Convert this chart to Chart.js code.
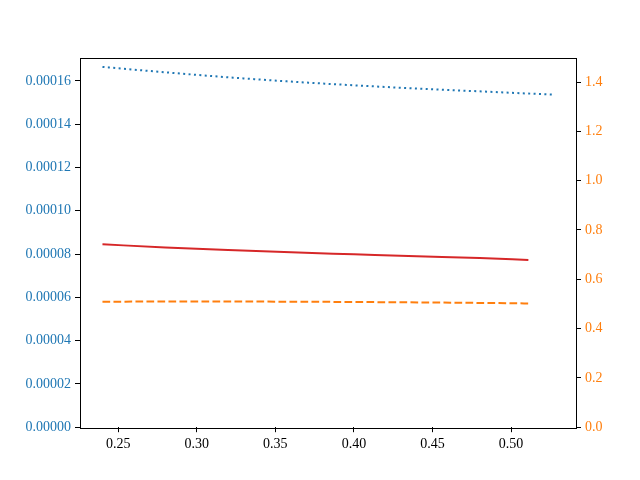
<!DOCTYPE html>
<html>
<head>
<meta charset="utf-8">
<script src="https://cdn.jsdelivr.net/npm/chart.js@4"></script>
<style>
  html, body { margin: 0; padding: 0; background: white; }
  #wrap { width: 640px; height: 480px; }
</style>
</head>
<body>
<div id="wrap"><canvas id="MyChart" width="640" height="480"></canvas></div>
<script>
// data
let xBlue = [0.240, 0.280, 0.320, 0.360, 0.400, 0.440, 0.480, 0.526]
let yBlue = [0.0001665, 0.0001640, 0.0001617, 0.0001597, 0.0001580, 0.0001565, 0.0001552, 0.0001537]
let xRed = [0.240, 0.280, 0.320, 0.360, 0.400, 0.440, 0.480, 0.511]
let yRed = [0.0000845, 0.0000831, 0.0000819, 0.0000808, 0.0000799, 0.0000790, 0.0000782, 0.0000773]
let xOrange = [0.240, 0.300, 0.360, 0.420, 0.480, 0.511]
let yOrange = [0.509, 0.510, 0.509, 0.507, 0.504, 0.502]
let xTicks = [0.25, 0.30, 0.35, 0.40, 0.45, 0.50]
let leftTicks = [0, 0.00002, 0.00004, 0.00006, 0.00008, 0.00010, 0.00012, 0.00014, 0.00016]
let rightTicks = [0, 0.2, 0.4, 0.6, 0.8, 1.0, 1.2, 1.4]

const pts = (xs, ys) => xs.map((x, i) => ({ x: x, y: ys[i] }))
const font = { family: "'Liberation Serif', 'DejaVu Serif', serif", size: 14 }
const setTicks = list => scale => { scale.ticks = list.map(v => ({ value: v })) }

// box around the plot area like matplotlib spines
const frame = {
    id: 'frame',
    afterDraw(chart) {
        const a = chart.chartArea, c = chart.ctx
        c.save()
        c.strokeStyle = 'black'
        c.lineWidth = 1
        c.strokeRect(Math.round(a.left) + 0.5, Math.round(a.top) + 0.5,
            Math.round(a.right - a.left), Math.round(a.bottom - a.top))
        c.restore()
    }
}

let ctx = document.getElementById('MyChart').getContext('2d')

new Chart(ctx, {
    type: 'line',
    data: {
        datasets: [{
            data: pts(xBlue, yBlue),
            yAxisID: 'yL',
            borderColor: '#1f77b4',
            borderWidth: 2,
            borderDash: [2, 3.4],
            pointRadius: 0,
            cubicInterpolationMode: 'monotone'
        }, {
            data: pts(xRed, yRed),
            yAxisID: 'yL',
            borderColor: '#d62728',
            borderWidth: 2,
            pointRadius: 0,
            cubicInterpolationMode: 'monotone'
        }, {
            data: pts(xOrange, yOrange),
            yAxisID: 'yR',
            borderColor: '#ff7f0e',
            borderWidth: 2,
            borderDash: [7.7, 3.3],
            pointRadius: 0,
            cubicInterpolationMode: 'monotone'
        }]
    },
    options: {
        responsive: false,
        animation: false,
        layout: { padding: { top: 57.6, left: 0, right: 0, bottom: 0 } },
        plugins: { legend: { display: false }, tooltip: { enabled: false } },
        scales: {
            x: {
                type: 'linear',
                min: 0.2257,
                max: 0.5413,
                afterBuildTicks: setTicks(xTicks),
                afterFit: s => { s.height = 52.8 },
                grid: { drawOnChartArea: false, tickLength: 5, color: 'black' },
                border: { display: false },
                ticks: { color: 'black', font: font, padding: 4, maxRotation: 0,
                    callback: v => v.toFixed(2) }
            },
            yL: {
                type: 'linear',
                position: 'left',
                min: 0,
                max: 0.0001708,
                afterBuildTicks: setTicks(leftTicks),
                afterFit: s => { s.width = 80 },
                grid: { drawOnChartArea: false, tickLength: 5, color: 'black' },
                border: { display: false },
                ticks: { color: '#1f77b4', font: font, padding: 4,
                    callback: v => v.toFixed(5) }
            },
            yR: {
                type: 'linear',
                position: 'right',
                min: 0,
                max: 1.499,
                afterBuildTicks: setTicks(rightTicks),
                afterFit: s => { s.width = 64 },
                grid: { drawOnChartArea: false, tickLength: 5, color: 'black' },
                border: { display: false },
                ticks: { color: '#ff7f0e', font: font, padding: 4,
                    callback: v => v.toFixed(1) }
            }
        }
    },
    plugins: [frame]
})
</script>
</body>
</html>
